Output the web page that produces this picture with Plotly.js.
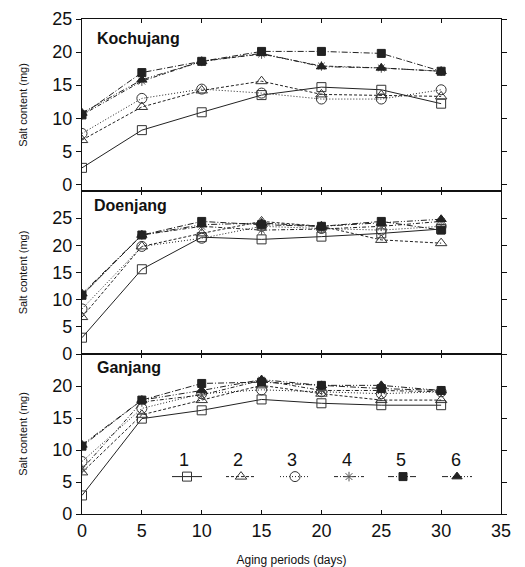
<!DOCTYPE html>
<html>
<head>
<meta charset="utf-8">
<script src="https://cdn.plot.ly/plotly-3.0.1.min.js"></script>
<style>html,body{margin:0;padding:0;background:#fff;}#chart{width:525px;height:567px;}</style>
</head>
<body>
<div id="chart"></div>
<script>
// Aging periods (days)
const days = [0, 5, 10, 15, 20, 25, 30];
const seriesNames = ["1", "2", "3", "4", "5", "6"];
const panelNames = ["Kochujang", "Doenjang", "Ganjang"];

// Kochujang salt content (mg)
const kochujang1 = [2.5, 8.2, 10.9, 13.5, 14.7, 14.3, 12.2];
const kochujang2 = [6.7, 11.7, 14.2, 15.6, 13.6, 13.5, 13.3];
const kochujang3 = [7.7, 13.0, 14.4, 13.8, 12.9, 12.9, 14.3];
const kochujang4 = [10.5, 15.6, 18.6, 19.7, 17.9, 17.6, 17.1];
const kochujang5 = [10.5, 16.9, 18.6, 20.1, 20.1, 19.8, 17.1];
const kochujang6 = [10.8, 15.8, 18.6, 19.8, 17.8, 17.6, 17.1];

// Doenjang salt content (mg)
const doenjang1 = [3.0, 15.6, 21.5, 21.1, 21.6, 22.2, 23.0];
const doenjang2 = [6.8, 19.8, 22.2, 24.4, 23.5, 21.0, 20.4];
const doenjang3 = [8.3, 19.8, 21.3, 23.5, 23.1, 22.8, 23.5];
const doenjang4 = [10.8, 21.9, 23.5, 22.8, 23.0, 23.5, 24.4];
const doenjang5 = [10.8, 21.9, 24.4, 23.8, 23.5, 24.4, 22.8];
const doenjang6 = [11.1, 21.9, 23.8, 24.1, 23.5, 24.1, 24.8];

// Ganjang salt content (mg)
const ganjang1 = [2.9, 14.9, 16.2, 17.9, 17.3, 17.0, 17.0];
const ganjang2 = [6.5, 15.5, 17.8, 20.1, 18.8, 17.8, 17.8];
const ganjang3 = [8.2, 16.5, 18.8, 19.4, 19.1, 18.8, 19.1];
const ganjang4 = [7.0, 17.5, 18.6, 20.9, 19.3, 19.3, 19.1];
const ganjang5 = [10.6, 17.8, 20.4, 20.6, 20.1, 19.6, 19.3];
const ganjang6 = [10.8, 17.8, 19.3, 21.0, 20.1, 20.1, 19.3];

const panels = [
  [kochujang1, kochujang2, kochujang3, kochujang4, kochujang5, kochujang6],
  [doenjang1, doenjang2, doenjang3, doenjang4, doenjang5, doenjang6],
  [ganjang1, ganjang2, ganjang3, ganjang4, ganjang5, ganjang6]
];

const styles = [
  {dash: "solid", symbol: "square-open", mc: "#333", size: 9},
  {dash: "3px,2px", symbol: "triangle-up-open", mc: "#333", size: 10},
  {dash: "1px,2px", symbol: "circle-open", mc: "#333", size: 10},
  {dash: "4px,2px,1px,2px", symbol: "asterisk-open", mc: "#555", size: 8},
  {dash: "6px,2px,1px,2px", symbol: "square", mc: "#222", size: 8},
  {dash: "6px,2px,1px,2px,1px,2px", symbol: "triangle-up", mc: "#222", size: 9}
];

const xaxes = ["x3", "x2", "x"];
const yaxes = ["y", "y2", "y3"];
const traces = [];
panels.forEach((series, p) => {
  series.forEach((vals, i) => {
    const s = styles[i];
    traces.push({
      type: "scatter", mode: "lines+markers",
      x: days, y: vals, xaxis: xaxes[p], yaxis: yaxes[p],
      name: p === 2 ? "\u00a0" : seriesNames[i], showlegend: p === 2,
      line: {color: "#222", width: 1, dash: s.dash},
      marker: {symbol: s.symbol, size: s.size, color: s.mc, line: {color: "#222", width: 1}}
    });
  });
});

const font = "Liberation Sans, Arial, sans-serif";
const yBase = {
  showline: true, linecolor: "#111", linewidth: 1.2, mirror: "ticks",
  ticks: "outside", ticklen: 5, tickcolor: "#111", zeroline: false, showgrid: false,
  tickfont: {family: font, size: 18, color: "#111"},
  title: {text: "Salt content (mg)", font: {family: font, size: 11, color: "#111"}, standoff: 22}
};
const xBase = {
  range: [0, 35], showline: true, linecolor: "#111", linewidth: 1.2, mirror: "ticks",
  ticks: "inside", ticklen: 4, tickcolor: "#111", zeroline: false, showgrid: false, dtick: 5,
  tickfont: {family: font, size: 18, color: "#111"}
};

const d1 = (514 - 191) / 495, d2 = (514 - 354) / 495;
const layout = {
  width: 525, height: 567,
  margin: {l: 82, r: 24, t: 19, b: 53},
  paper_bgcolor: "#fff", plot_bgcolor: "#fff",
  showlegend: true,
  legend: {orientation: "h", x: (167 - 82) / 419, xanchor: "left", y: (514 - 477) / 495, yanchor: "middle",
           bgcolor: "rgba(0,0,0,0)", entrywidth: 9, entrywidthmode: "pixels",
           font: {family: font, size: 14, color: "#111"}, itemwidth: 30},
  xaxis: Object.assign({}, xBase, {anchor: "y3", domain: [0, 1],
    title: {text: "Aging periods (days)", font: {family: font, size: 12, color: "#111"}, standoff: 16}}),
  xaxis2: Object.assign({}, xBase, {anchor: "y2", matches: "x", showticklabels: false}),
  xaxis3: Object.assign({}, xBase, {anchor: "y", matches: "x", showticklabels: false}),
  yaxis: Object.assign({}, yBase, {domain: [d1, 1], range: [-1, 25], tickvals: [0, 5, 10, 15, 20, 25]}),
  yaxis2: Object.assign({}, yBase, {domain: [d2, d1], range: [0, 30], tickvals: [0, 5, 10, 15, 20, 25]}),
  yaxis3: Object.assign({}, yBase, {domain: [0, d2], range: [0, 25], tickvals: [0, 5, 10, 15, 20]}),
  annotations: [
    {text: "<b>" + panelNames[0] + "</b>", xref: "paper", yref: "paper", x: 0.03, y: 0.96, xanchor: "left", yanchor: "middle", showarrow: false, font: {family: font, size: 16, color: "#111"}},
    {text: "<b>" + panelNames[1] + "</b>", xref: "paper", yref: "paper", x: 0.025, y: 0.623, xanchor: "left", yanchor: "middle", showarrow: false, font: {family: font, size: 16, color: "#111"}},
    {text: "<b>" + panelNames[2] + "</b>", xref: "paper", yref: "paper", x: 0.03, y: 0.296, xanchor: "left", yanchor: "middle", showarrow: false, font: {family: font, size: 16, color: "#111"}}
  ]
};
const legendCenters = [184, 238, 292, 347, 401, 456];
seriesNames.forEach((n, i) => {
  layout.annotations.push({text: n, xref: "paper", yref: "paper",
    x: (legendCenters[i] - 82) / 419, y: (514 - 460) / 495, xanchor: "center", yanchor: "middle",
    showarrow: false, font: {family: font, size: 18, color: "#111"}});
});

Plotly.newPlot("chart", traces, layout, {displayModeBar: false, staticPlot: true});
</script>
</body>
</html>
